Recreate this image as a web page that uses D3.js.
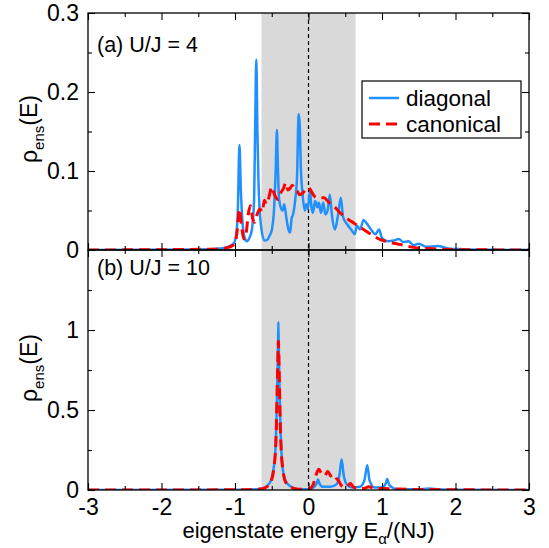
<!DOCTYPE html>
<html>
<head>
<meta charset="utf-8">
<script src="https://cdn.jsdelivr.net/npm/d3@7"></script>
<style>
  body { margin: 0; background: #fff; }
  text { font-family: "Liberation Sans", Arial, sans-serif; }
</style>
</head>
<body>
<div id="chart"></div>
<script>
// ---------------- DATA ----------------
// panel (a) U/J = 4
const aDiagE = [-3, -1.5, -1.2, -1.1, -1.02, -0.98, -0.96, -0.94, -0.92, -0.9, -0.87, -0.84, -0.8, -0.77, -0.74, -0.725, -0.71, -0.695, -0.68, -0.65, -0.6, -0.56, -0.53, -0.5, -0.47, -0.445, -0.43, -0.415, -0.4, -0.37, -0.35, -0.33, -0.3, -0.27, -0.25, -0.23, -0.21, -0.18, -0.155, -0.135, -0.12, -0.105, -0.08, -0.05, -0.03, -0.01, 0.02, 0.04, 0.06, 0.09, 0.12, 0.14, 0.17, 0.2, 0.23, 0.26, 0.29, 0.32, 0.36, 0.4, 0.44, 0.47, 0.53, 0.58, 0.63, 0.66, 0.7, 0.75, 0.79, 0.85, 0.91, 0.96, 1.0, 1.08, 1.16, 1.23, 1.29, 1.36, 1.43, 1.5, 1.6, 1.76, 1.9, 2.1, 2.5, 3];
const aDiagRho = [0, 0.0005, 0.002, 0.004, 0.008, 0.022, 0.055, 0.133, 0.075, 0.038, 0.016, 0.011, 0.016, 0.026, 0.064, 0.16, 0.241, 0.15, 0.085, 0.034, 0.012, 0.013, 0.018, 0.025, 0.05, 0.105, 0.152, 0.1, 0.064, 0.052, 0.05, 0.058, 0.04, 0.025, 0.022, 0.04, 0.045, 0.064, 0.095, 0.172, 0.16, 0.106, 0.07, 0.05, 0.058, 0.052, 0.075, 0.055, 0.047, 0.062, 0.054, 0.06, 0.047, 0.06, 0.045, 0.05, 0.07, 0.043, 0.026, 0.043, 0.066, 0.042, 0.032, 0.026, 0.02, 0.031, 0.026, 0.038, 0.034, 0.026, 0.02, 0.026, 0.015, 0.011, 0.012, 0.014, 0.01, 0.011, 0.006, 0.008, 0.004, 0.005, 0.002, 0.001, 0.0003, 0];
const aCanE = [-3, -1.3, -1.1, -1.0, -0.97, -0.94, -0.91, -0.88, -0.85, -0.82, -0.79, -0.76, -0.73, -0.7, -0.66, -0.63, -0.6, -0.57, -0.53, -0.5, -0.47, -0.44, -0.41, -0.38, -0.34, -0.31, -0.28, -0.25, -0.22, -0.19, -0.15, -0.12, -0.08, -0.04, 0, 0.04, 0.08, 0.14, 0.21, 0.28, 0.35, 0.42, 0.48, 0.55, 0.62, 0.68, 0.75, 0.85, 0.98, 1.1, 1.25, 1.45, 1.7, 2.0, 3];
const aCanRho = [0, 0.001, 0.003, 0.008, 0.025, 0.052, 0.03, 0.014, 0.02, 0.045, 0.056, 0.04, 0.035, 0.045, 0.052, 0.048, 0.063, 0.058, 0.07, 0.08, 0.072, 0.066, 0.064, 0.072, 0.078, 0.085, 0.076, 0.078, 0.082, 0.077, 0.074, 0.07, 0.072, 0.076, 0.079, 0.074, 0.068, 0.066, 0.066, 0.06, 0.055, 0.048, 0.043, 0.038, 0.034, 0.03, 0.026, 0.02, 0.013, 0.01, 0.007, 0.003, 0.0015, 0.0005, 0];

// panel (b) U/J = 10
const bDiagE = [-3, -1, -0.7, -0.6, -0.52, -0.48, -0.45, -0.43, -0.415, -0.41, -0.405, -0.39, -0.37, -0.34, -0.29, -0.2, -0.1, 0, 0.08, 0.11, 0.13, 0.15, 0.19, 0.3, 0.38, 0.42, 0.45, 0.48, 0.52, 0.6, 0.7, 0.76, 0.8, 0.83, 0.9, 1.0, 1.05, 1.07, 1.1, 1.2, 1.5, 1.64, 1.8, 2.2, 3];
const bDiagRho = [0, 0.001, 0.005, 0.015, 0.05, 0.12, 0.25, 0.55, 0.9, 1.05, 0.9, 0.55, 0.25, 0.1, 0.04, 0.012, 0.005, 0.005, 0.02, 0.04, 0.065, 0.04, 0.02, 0.02, 0.035, 0.09, 0.19, 0.09, 0.035, 0.015, 0.02, 0.06, 0.155, 0.06, 0.015, 0.015, 0.04, 0.068, 0.03, 0.005, 0.004, 0.01, 0.003, 0.001, 0];
const bCanE = [-3, -1, -0.7, -0.6, -0.52, -0.47, -0.44, -0.42, -0.41, -0.4, -0.38, -0.35, -0.3, -0.2, -0.1, 0, 0.06, 0.1, 0.14, 0.18, 0.22, 0.26, 0.3, 0.34, 0.39, 0.43, 0.47, 0.52, 0.57, 0.61, 0.66, 0.75, 0.82, 0.9, 1.1, 1.4, 1.8, 3];
const bCanRho = [0, 0.001, 0.004, 0.012, 0.045, 0.14, 0.35, 0.75, 0.93, 0.75, 0.35, 0.13, 0.04, 0.01, 0.004, 0.005, 0.03, 0.09, 0.13, 0.1, 0.09, 0.115, 0.09, 0.06, 0.07, 0.04, 0.02, 0.02, 0.04, 0.02, 0.01, 0.01, 0.02, 0.01, 0.008, 0.004, 0.002, 0];

const xTicks = [-3, -2, -1, 0, 1, 2, 3];
const aTicks = [0, 0.1, 0.2, 0.3];
const bTicks = [0, 0.5, 1];
const window0 = [-0.64, 0.64]; // shaded energy window

// ---------------- LAYOUT ----------------
const W = 549, H = 548;
const left = 88, right = 529;
const aTop = 13, mid = 250, bBot = 490;

const svg = d3.select("#chart").append("svg")
  .attr("width", W).attr("height", H);

const x = d3.scaleLinear().domain([-3, 3]).range([left, right]);
const yA = d3.scaleLinear().domain([0, 0.3]).range([mid, aTop]);
const yB = d3.scaleLinear().domain([0, 1.5]).range([bBot, mid]);

// shaded window + dashed line at zero
svg.append("rect")
  .attr("x", x(window0[0])).attr("y", aTop)
  .attr("width", x(window0[1]) - x(window0[0]))
  .attr("height", bBot - aTop)
  .attr("fill", "#d9d9d9");

svg.append("line")
  .attr("x1", x(0)).attr("x2", x(0))
  .attr("y1", aTop).attr("y2", bBot)
  .attr("stroke", "#000").attr("stroke-width", 1.2)
  .attr("stroke-dasharray", "4,3");

// clip paths
svg.append("clipPath").attr("id", "clipA").append("rect")
  .attr("x", left).attr("y", aTop).attr("width", right - left).attr("height", mid - aTop);
svg.append("clipPath").attr("id", "clipB").append("rect")
  .attr("x", left).attr("y", mid).attr("width", right - left).attr("height", bBot - mid);

const blue = "#2190ff", red = "#ff0000";

function drawCurve(xs, ys, yScale, clip, dashed) {
  const pts = xs.map((e, i) => [e, ys[i]]);
  const line = d3.line()
    .x(d => x(d[0]))
    .y(d => yScale(d[1]))
    .curve(d3.curveMonotoneX);
  svg.append("path")
    .datum(pts)
    .attr("clip-path", "url(#" + clip + ")")
    .attr("fill", "none")
    .attr("stroke", dashed ? red : blue)
    .attr("stroke-width", dashed ? 3 : 2.5)
    .attr("stroke-dasharray", dashed ? "11,6" : null)
    .attr("stroke-linejoin", "round")
    .attr("d", line);
}

drawCurve(aDiagE, aDiagRho, yA, "clipA", false);
drawCurve(aCanE, aCanRho, yA, "clipA", true);
drawCurve(bDiagE, bDiagRho, yB, "clipB", false);
drawCurve(bCanE, bCanRho, yB, "clipB", true);

// ---------------- AXES ----------------
const tickFs = 23;
function styleAxis(g) {
  g.select(".domain").remove();
  g.selectAll("line").attr("stroke", "#000").attr("stroke-width", 1.1);
  g.selectAll("text").attr("font-size", tickFs).attr("fill", "#000")
    .style("font-family", "'Liberation Sans', Arial, sans-serif");
}

function panelAxes(yScale, yt, ymin, top, bottom, xLabels) {
  const xMinor = d3.range(-2.5, 3, 1);
  // bottom
  svg.append("g").attr("transform", `translate(0,${bottom})`)
    .call(d3.axisBottom(x).tickValues(xTicks).tickSize(-7).tickPadding(9)
      .tickFormat(xLabels ? (d => String(d)) : ""))
    .call(styleAxis);
  svg.append("g").attr("transform", `translate(0,${bottom})`)
    .call(d3.axisBottom(x).tickValues(xMinor).tickSize(-4).tickFormat(""))
    .call(styleAxis);
  // top
  svg.append("g").attr("transform", `translate(0,${top})`)
    .call(d3.axisTop(x).tickValues(xTicks).tickSize(-7).tickFormat(""))
    .call(styleAxis);
  svg.append("g").attr("transform", `translate(0,${top})`)
    .call(d3.axisTop(x).tickValues(xMinor).tickSize(-4).tickFormat(""))
    .call(styleAxis);
  // left
  svg.append("g").attr("transform", `translate(${left},0)`)
    .call(d3.axisLeft(yScale).tickValues(yt).tickSize(-7).tickPadding(9)
      .tickFormat(d => String(d)))
    .call(styleAxis);
  svg.append("g").attr("transform", `translate(${left},0)`)
    .call(d3.axisLeft(yScale).tickValues(ymin).tickSize(-4).tickFormat(""))
    .call(styleAxis);
  // right
  svg.append("g").attr("transform", `translate(${right},0)`)
    .call(d3.axisRight(yScale).tickValues(yt).tickSize(-7).tickFormat(""))
    .call(styleAxis);
  svg.append("g").attr("transform", `translate(${right},0)`)
    .call(d3.axisRight(yScale).tickValues(ymin).tickSize(-4).tickFormat(""))
    .call(styleAxis);
}

panelAxes(yA, aTicks, [0.05, 0.15, 0.25], aTop, mid, false);
panelAxes(yB, bTicks, [0.25, 0.75, 1.25], mid, bBot, true);

// frames
[[aTop, mid], [mid, bBot]].forEach(([t, b]) => {
  svg.append("rect")
    .attr("x", left).attr("y", t)
    .attr("width", right - left).attr("height", b - t)
    .attr("fill", "none").attr("stroke", "#000").attr("stroke-width", 1.3);
});

// ---------------- LABELS ----------------
const fs = 21.5;
svg.append("text").attr("x", 97).attr("y", 52).attr("font-size", fs)
  .text("(a) U/J = 4");
svg.append("text").attr("x", 97).attr("y", 275).attr("font-size", fs)
  .text("(b) U/J = 10");

function yTitle(cy) {
  const t = svg.append("text")
    .attr("transform", `translate(37,${cy}) rotate(-90)`)
    .attr("text-anchor", "middle").attr("font-size", 23);
  t.append("tspan").text("\u03c1");
  t.append("tspan").attr("dy", 7).attr("font-size", 15).text("ens");
  t.append("tspan").attr("dy", -7).text("(E)");
}
yTitle(129);
yTitle(368);

const xt = svg.append("text")
  .attr("x", x(0)).attr("y", 538)
  .attr("text-anchor", "middle").attr("font-size", 22);
xt.append("tspan").text("eigenstate energy E");
xt.append("tspan").attr("dy", 6).attr("font-size", 15).text("\u03b1");
xt.append("tspan").attr("dy", -6).text("/(NJ)");

// ---------------- LEGEND ----------------
const lg = svg.append("g");
lg.append("rect").attr("x", 362).attr("y", 81).attr("width", 159).attr("height", 57)
  .attr("fill", "#fff").attr("stroke", "#000").attr("stroke-width", 1.2);
const legendItems = [["diagonal", false], ["canonical", true]];
legendItems.forEach(([name, dashed], i) => {
  const yy = 98 + i * 26;
  lg.append("line")
    .attr("x1", 369).attr("x2", 399).attr("y1", yy).attr("y2", yy)
    .attr("stroke", dashed ? red : blue)
    .attr("stroke-width", dashed ? 3 : 2.5)
    .attr("stroke-dasharray", dashed ? "11,6" : null);
  lg.append("text").attr("x", 406).attr("y", yy + 8).attr("font-size", 22.5).text(name);
});
</script>
</body>
</html>
